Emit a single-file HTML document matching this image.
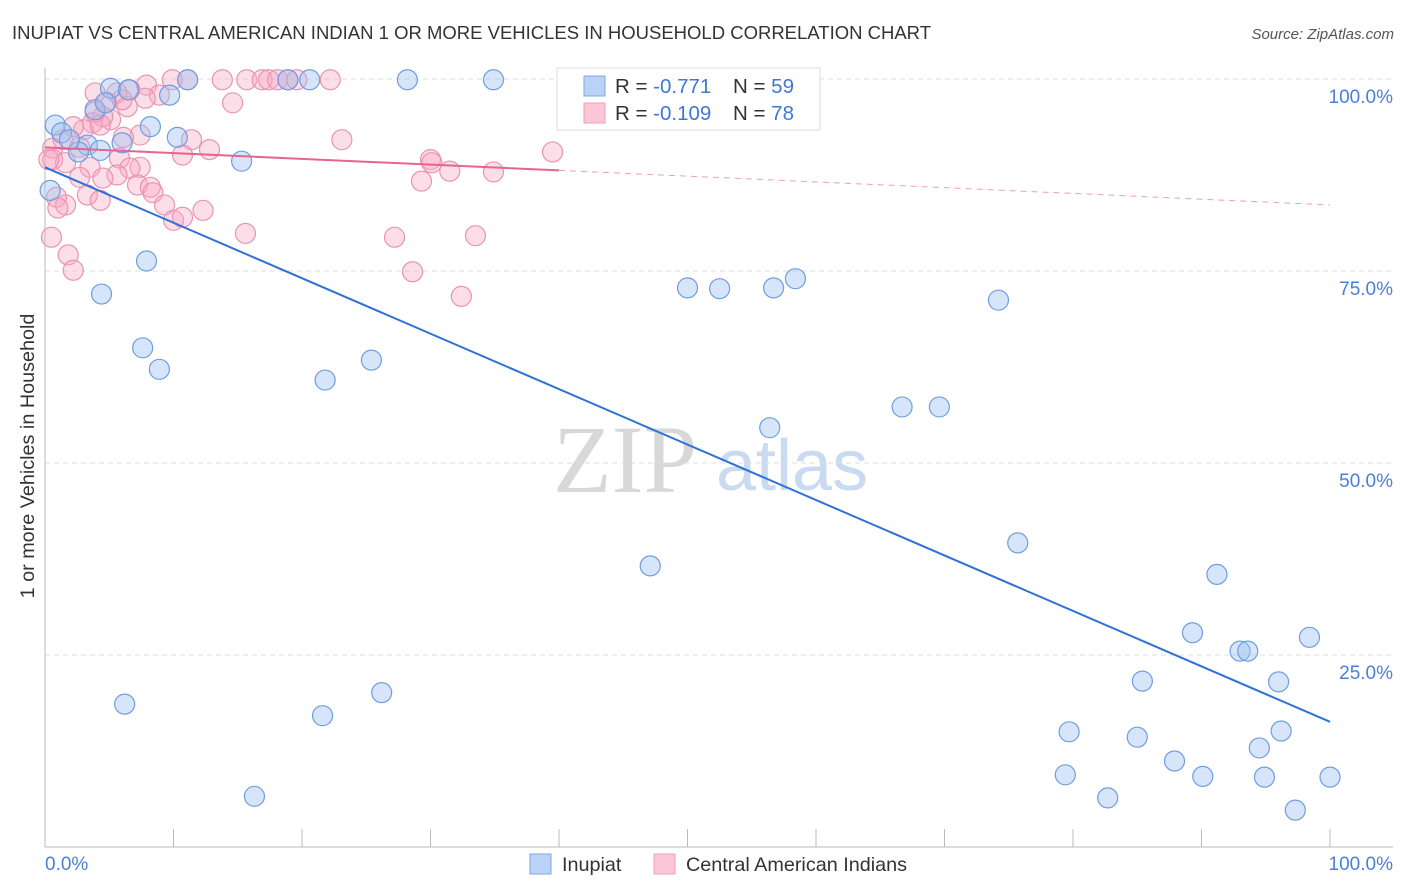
<!DOCTYPE html>
<html><head><meta charset="utf-8"><style>
body{margin:0;background:#fff;font-family:"Liberation Sans",sans-serif}
svg{display:block}
</style></head><body>
<svg width="1406" height="892" xmlns="http://www.w3.org/2000/svg">
<text x="12" y="39" font-size="18.5" fill="#333">INUPIAT VS CENTRAL AMERICAN INDIAN 1 OR MORE VEHICLES IN HOUSEHOLD CORRELATION CHART</text>
<text x="1394" y="39" font-size="15" fill="#555" font-style="italic" text-anchor="end">Source: ZipAtlas.com</text>
<g>
<text x="553" y="492" font-size="96" fill="#d8d8d8" font-family="Liberation Serif,serif">ZIP</text>
<text x="716" y="490" font-size="72" fill="#c9daf3">atlas</text>
</g>
<g id="grid"></g>
<g id="axes"></g>
<g id="pts"></g>
<g id="trends"></g>
<text transform="translate(34,456) rotate(-90)" font-size="19.8" fill="#333" text-anchor="middle">1 or more Vehicles in Household</text>
<text x="45" y="870" font-size="19" fill="#4a7fd6">0.0%</text>
<text x="1393" y="870" font-size="19" fill="#4a7fd6" text-anchor="end">100.0%</text>
<g>
<rect x="557" y="68" width="263" height="62" fill="#fff" stroke="#ddd"/>
<rect x="584" y="76" width="21" height="20" fill="#b9d2f5" stroke="#7ea7e4"/>
<rect x="584" y="103" width="21" height="20" fill="#fcc6d6" stroke="#eaa0b9"/>
<text x="615" y="93" font-size="20.5" fill="#333">R = <tspan fill="#3e78d4">-0.771</tspan></text>
<text x="733" y="93" font-size="20.5" fill="#333">N = <tspan fill="#3e78d4">59</tspan></text>
<text x="615" y="120" font-size="20.5" fill="#333">R = <tspan fill="#3e78d4">-0.109</tspan></text>
<text x="733" y="120" font-size="20.5" fill="#333">N = <tspan fill="#3e78d4">78</tspan></text>
</g>
<g>
<rect x="530" y="854" width="21" height="20" fill="#b9d2f5" stroke="#7ea7e4"/>
<text x="562" y="871" font-size="19.8" fill="#333">Inupiat</text>
<rect x="654" y="854" width="21" height="20" fill="#fcc6d6" stroke="#eaa0b9"/>
<text x="686" y="871" font-size="19.8" fill="#333">Central American Indians</text>
</g>
</svg>
<script>
const yTicks=[25,50,75,100];
const yTickLabels=["25.0%","50.0%","75.0%","100.0%"];
const xTicks=[0,10,20,30,40,50,60,70,80,90,100];
const blueX=[5.1,0.8,1.3,3.9,4.7,6.5,11.1,18.9,20.6,28.2,34.9,9.7,8.2,10.3,3.3,2.6,6.0,15.3,0.4,7.9,4.4,7.6,8.9,21.8,25.4,50.0,52.5,56.7,58.4,74.2,66.7,69.6,56.4,47.1,75.7,91.2,89.3,93.0,93.6,98.4,85.4,96.0,6.2,26.2,21.6,79.7,85.0,96.2,94.5,79.4,87.9,90.1,94.9,100,82.7,97.3,16.3,4.3,1.9];
const blueY=[98.8,94.0,93.0,96.0,96.9,98.6,99.9,99.9,99.9,99.9,99.9,97.9,93.8,92.4,91.4,90.5,91.7,89.3,85.5,76.3,72.0,65.0,62.2,60.8,63.4,72.8,72.7,72.8,74.0,71.2,57.3,57.3,54.6,36.6,39.6,35.5,27.9,25.5,25.5,27.3,21.6,21.5,18.6,20.1,17.1,15.0,14.3,15.1,12.9,9.4,11.2,9.2,9.1,9.1,6.4,4.8,6.6,90.7,92.1];
const pinkX=[9.9,11.1,13.8,15.7,16.9,17.4,18.1,18.9,19.6,22.2,7.9,3.9,6.6,8.9,7.8,14.6,4.8,5.6,6.4,5.1,3.7,4.5,3.9,3.0,2.2,23.1,7.4,6.1,11.4,12.8,10.7,0.6,1.4,2.7,0.6,1.6,5.8,3.5,7.4,6.6,5.6,4.5,2.7,7.2,8.2,8.4,3.3,4.3,0.9,1.6,1.0,9.3,10.0,10.7,12.3,15.6,0.5,1.8,2.2,27.2,28.6,32.4,33.5,29.3,30.0,31.5,34.9,39.5,30.1,0.3,4.3,6.0];
const pinkY=[99.9,99.9,99.9,99.9,99.9,99.9,99.9,99.9,99.9,99.9,99.2,98.2,98.6,97.9,97.5,96.9,97.0,98.2,96.4,94.7,94.3,95.1,95.7,93.4,93.8,92.1,92.7,92.4,92.1,90.8,90.1,91.0,92.1,91.1,89.5,89.1,89.7,88.5,88.5,88.4,87.5,87.1,87.2,86.2,85.9,85.2,84.9,84.2,84.6,83.6,83.2,83.6,81.6,82.0,82.9,79.9,79.4,77.1,75.1,79.4,74.9,71.7,79.6,86.7,89.5,88.0,87.9,90.5,89.1,89.5,94.0,97.3];
const blueTrend=[88.5,16.3];
const pinkTrend=[91.1,83.6];
const pinkSolidEnd=40;
const NS="http://www.w3.org/2000/svg";
const X=v=>45+v*12.85, Y=v=>847-v*7.68;
function mk(t,a,p){const e=document.createElementNS(NS,t);for(const k in a)e.setAttribute(k,a[k]);p.appendChild(e);return e;}
const grid=document.getElementById('grid'),axes=document.getElementById('axes'),pts=document.getElementById('pts'),tr=document.getElementById('trends');
yTicks.forEach((t,i)=>{
 const l=mk('line',{x1:45,x2:1393,y1:Y(t),y2:Y(t),stroke:'#ddd','stroke-dasharray':'5,4'},grid);
 
 
 const tx=mk('text',{x:1393,y:Y(t)+24,'font-size':19,fill:'#4a7fd6','text-anchor':'end'},axes);
 tx.textContent=yTickLabels[i];
 
 
});
let a=mk('line',{x1:45,x2:45,y1:68,y2:847,stroke:'#bbb'},axes);


a=mk('line',{x1:45,x2:1393,y1:847,y2:847,stroke:'#bbb'},axes);


xTicks.forEach(t=>{
 const l=mk('line',{x1:X(t),x2:X(t),y1:829,y2:847,stroke:'#bbb'},axes);
 
 
});
pinkX.forEach((x,i)=>{
 const c=mk('circle',{cx:X(x),cy:Y(pinkY[i]),r:10,fill:'rgba(246,168,194,0.38)',stroke:'#ea93b1','stroke-width':1.2},pts);
 
 
});
blueX.forEach((x,i)=>{
 const c=mk('circle',{cx:X(x),cy:Y(blueY[i]),r:10,fill:'rgba(158,193,240,0.42)',stroke:'#6e9de0','stroke-width':1.2},pts);
 
 
});
let t=mk('line',{x1:X(0),y1:Y(blueTrend[0]),x2:X(100),y2:Y(blueTrend[1]),stroke:'#2f72d6','stroke-width':2},tr);


const pm=pinkTrend[0]+(pinkTrend[1]-pinkTrend[0])*pinkSolidEnd/100;
t=mk('line',{x1:X(0),y1:Y(pinkTrend[0]),x2:X(pinkSolidEnd),y2:Y(pm),stroke:'#e8638f','stroke-width':2},tr);


t=mk('line',{x1:X(pinkSolidEnd),y1:Y(pm),x2:X(100),y2:Y(pinkTrend[1]),stroke:'#e8a0b8','stroke-width':1,'stroke-dasharray':'6,5'},tr);


</script>
</body></html>
